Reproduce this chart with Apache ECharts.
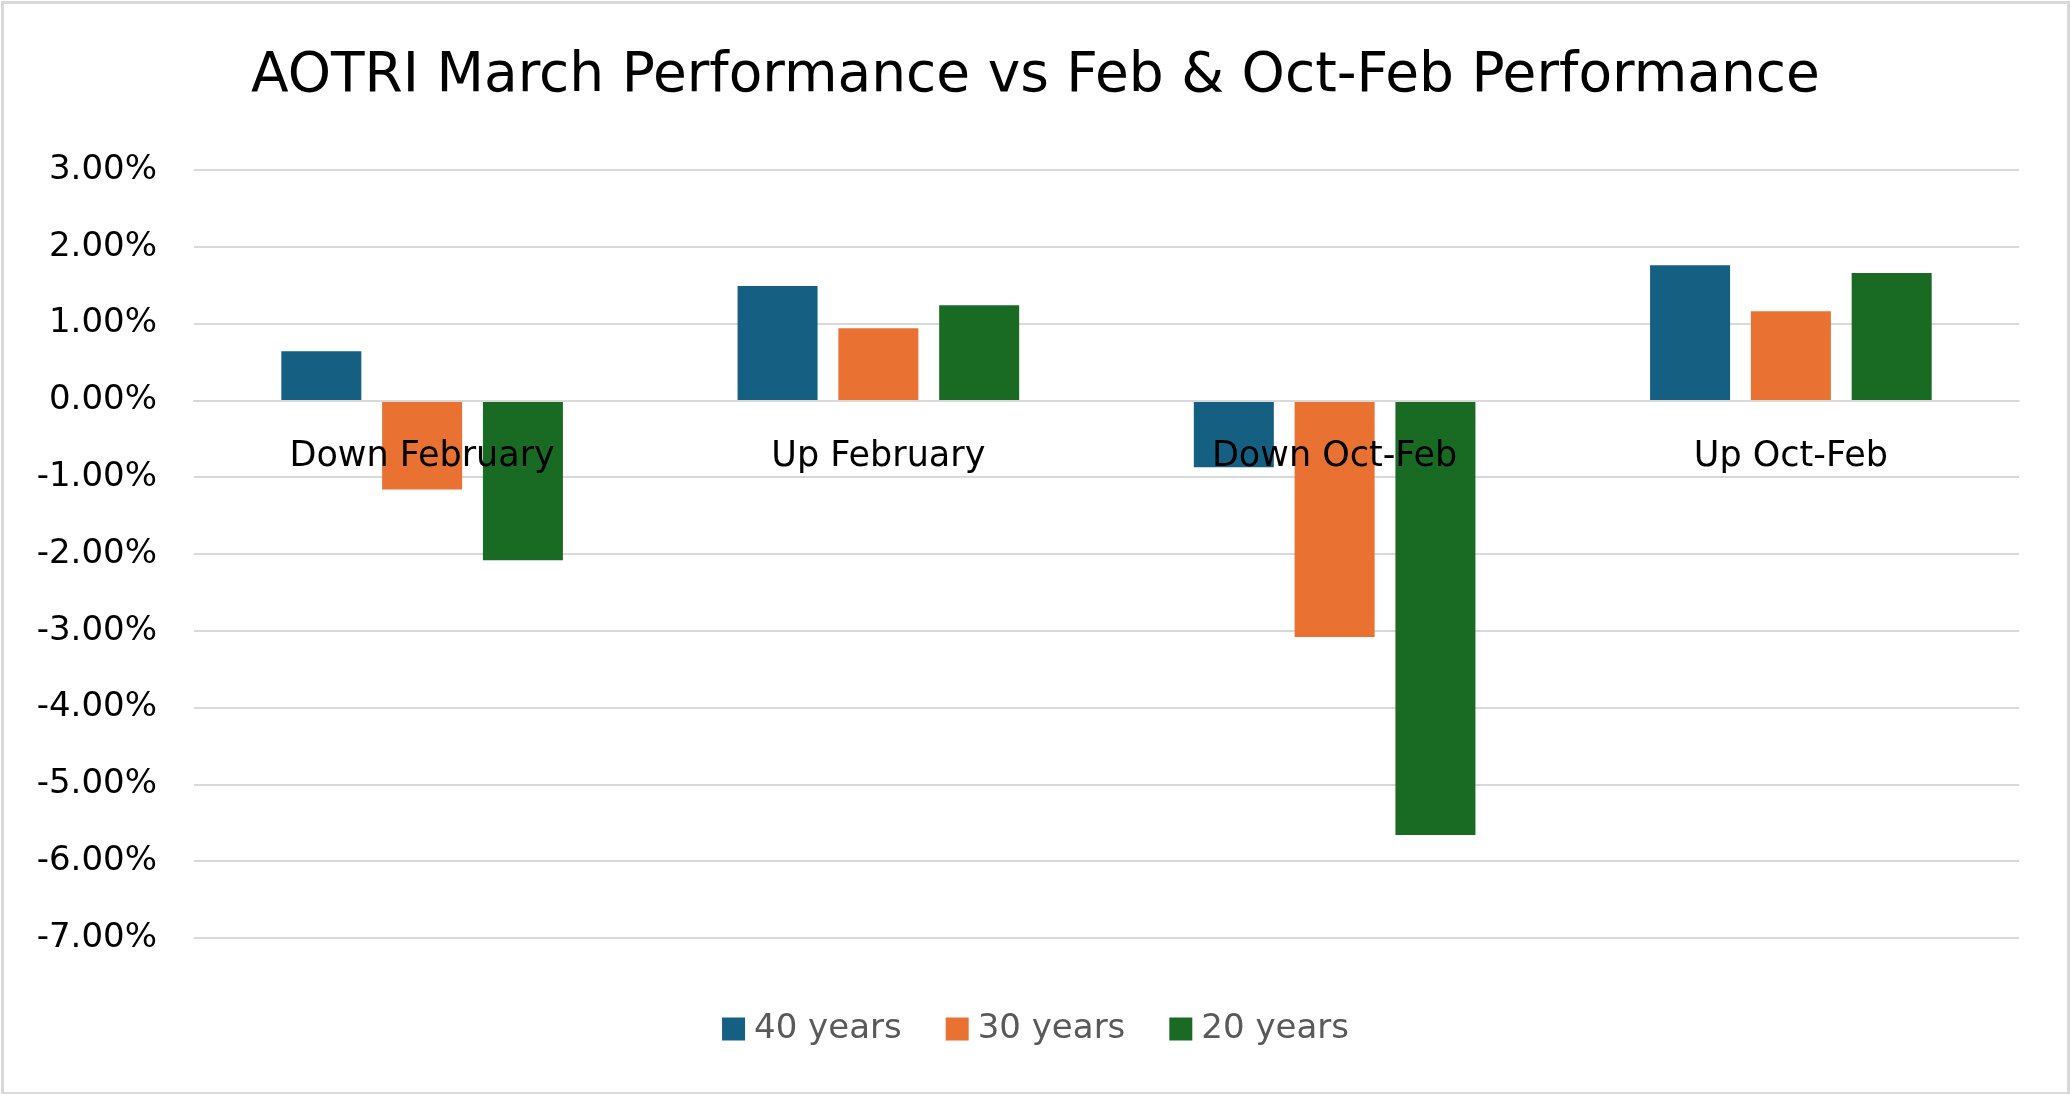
<!DOCTYPE html>
<html>
<head>
<meta charset="utf-8">
<script src="https://cdn.jsdelivr.net/npm/echarts@6/dist/echarts.min.js"></script>
<style>
html,body{margin:0;padding:0;background:#fff;}
#chart{width:2071px;height:1094px;}
</style>
</head>
<body>
<div id="chart"></div>
<script>
const categories = ['Down February', 'Up February', 'Down Oct-Feb', 'Up Oct-Feb'];
const seriesNames = ['40 years', '30 years', '20 years'];
const values40 = [0.64, 1.49, -0.87, 1.76];
const values30 = [-1.16, 0.94, -3.08, 1.16];
const values20 = [-2.08, 1.24, -5.66, 1.66];
const yTicks = {min: -7, max: 3, interval: 1};
const colors = ['#156082', '#E97132', '#196B24'];
const FONT = 'DejaVu Sans';

const chart = echarts.init(document.getElementById('chart'));
const seriesData = [values40, values30, values20];
chart.setOption({
  animation: false,
  backgroundColor: '#fff',
  graphic: [{
    type: 'rect', left: 0, top: 0, z: -1,
    shape: {x: 1.5, y: 1.5, width: 2066, height: 1091},
    style: {fill: 'none', stroke: '#d9d9d9', lineWidth: 3}
  }],
  title: {
    text: 'AOTRI March Performance vs Feb & Oct-Feb Performance',
    left: 'center', top: 44,
    textStyle: {fontFamily: FONT, fontSize: 55, fontWeight: 'normal', color: '#000'}
  },
  legend: {
    data: seriesNames,
    bottom: 43, left: 'center',
    icon: 'rect', itemWidth: 23, itemHeight: 23, itemGap: 44,
    textStyle: {fontFamily: FONT, fontSize: 34, color: '#595959', padding: [0,0,0,4]}
  },
  grid: {left: 194, right: 52, top: 170, bottom: 156, containLabel: false},
  xAxis: {
    type: 'category', data: categories, z: 10,
    axisLine: {onZero: false, lineStyle: {color: '#d9d9d9', width: 2}},
    axisTick: {show: false},
    axisLabel: {fontFamily: FONT, fontSize: 35, color: '#000', margin: 39}
  },
  yAxis: {
    type: 'value', min: yTicks.min, max: yTicks.max, interval: yTicks.interval,
    axisLine: {show: false}, axisTick: {show: false},
    splitLine: {lineStyle: {color: '#d9d9d9', width: 2}},
    axisLabel: {fontFamily: FONT, fontSize: 34, color: '#000', margin: 37,
      formatter: v => v.toFixed(2) + '%'}
  },
  series: seriesNames.map((n, i) => ({
    name: n, type: 'bar', data: seriesData[i], barWidth: 80, barGap: '26%',
    itemStyle: {color: colors[i]}
  }))
});
// place the category axis at the zero line (as in the original chart)
const zeroY = chart.convertToPixel({yAxisIndex: 0}, 0);
const bottomY = chart.convertToPixel({yAxisIndex: 0}, yTicks.min);
chart.setOption({xAxis: {offset: zeroY - bottomY}});
</script>
</body>
</html>
